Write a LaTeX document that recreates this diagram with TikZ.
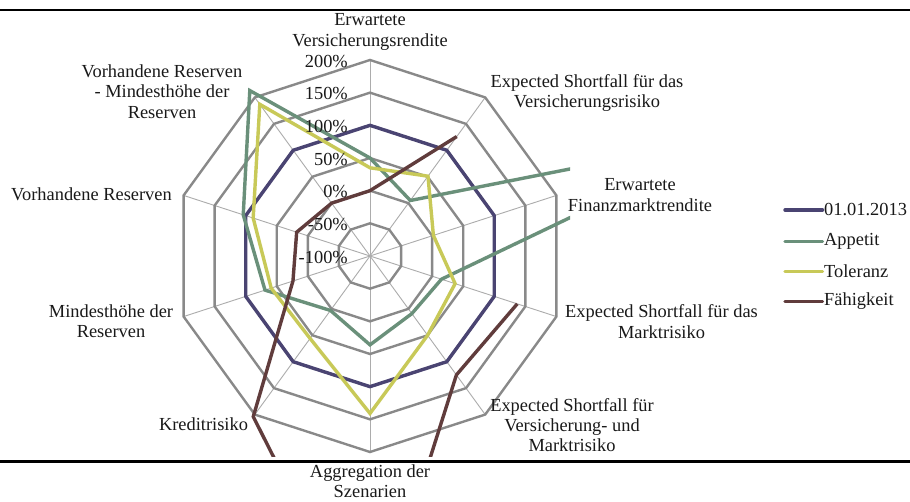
\documentclass[tikz,border=0pt]{standalone}
\usepackage{fontspec}
\setmainfont{Liberation Serif}
\definecolor{sBlue}{RGB}{74,68,114}
\definecolor{sGreen}{RGB}{106,144,122}
\definecolor{sYellow}{RGB}{200,201,88}
\definecolor{sBrown}{RGB}{96,60,60}
\definecolor{ringgray}{RGB}{137,137,137}
\definecolor{spokegray}{RGB}{172,172,172}
\definecolor{txt}{RGB}{25,25,25}
\begin{document}
\begin{tikzpicture}[x=1pt,y=-1pt,
  ring/.style={draw=ringgray,line width=2.4pt,line join=miter},
  spoke/.style={draw=spokegray,line width=0.9pt},
  series/.style={line width=3.4pt,line join=miter},
  lbl/.style={font=\fontsize{18.4}{20.3}\selectfont,align=center,inner sep=0pt,text=txt},
  ticklbl/.style={font=\fontsize{18.4}{20}\selectfont,anchor=east,inner sep=0pt,text=txt},
  legtxt/.style={font=\fontsize{18.4}{20}\selectfont,anchor=west,inner sep=0pt,text=txt},
  rulebar/.style={line width=2.8pt,draw=black}]
\useasboundingbox (0,0) rectangle (910,502);
\fill[white] (0,0) rectangle (910,502);

% horizontal rules
\coordinate (tl) at (0,10);
\coordinate (tr) at (910,10);
\coordinate (bl) at (0,461.5);
\coordinate (br) at (910,461.5);
\draw[rulebar] (tl) -- (tr);
\draw[rulebar] (bl) -- (br);

\coordinate (C) at (370,256);
\begin{scope}[shift={(370,256)}]
  % spokes
  \foreach \k in {0,...,9}
    \draw[spoke] (0,0) -- (36*\k-90:196);
  % rings
  \foreach \i in {1,...,6}{
    \pgfmathsetmacro{\rr}{\i*32.6667}
    \draw[ring] (-90:\rr) \foreach \k in {1,...,9}{ -- (36*\k-90:\rr)} -- cycle;
  }
  % data coordinates
  \foreach \k/\v in {0/100,1/100,2/100,3/100,4/100,5/100,6/100,7/100,8/100,9/100}
    \coordinate (b\k) at (36*\k-90:{(\v+100)*0.65333});
  \foreach \k/\v in {0/50,1/5,2/500,3/15,4/9,5/36,6/3,7/69,8/104,9/213}
    \coordinate (g\k) at (36*\k-90:{(\v+100)*0.65333});
  \foreach \k/\v in {0/35,1/51,2/2,3/37,4/50,5/141,6/56,7/59,8/88,9/187}
    \coordinate (y\k) at (36*\k-90:{(\v+100)*0.65333});
  \foreach \k/\v in {0/0,1/126,3/137,4/125,5/500,6/204,7/24,8/18,9/0}
    \coordinate (f\k) at (36*\k-90:{(\v+100)*0.65333});
\end{scope}

\begin{scope}
  \clip (170,56) rectangle (570,456);
  \draw[series,sBlue] (b0) -- (b1) -- (b2) -- (b3) -- (b4) -- (b5) -- (b6) -- (b7) -- (b8) -- (b9) -- cycle;
  \draw[series,sGreen] (g0) -- (g1) -- (g2) -- (g3) -- (g4) -- (g5) -- (g6) -- (g7) -- (g8) -- (g9) -- cycle;
  \draw[series,sYellow] (y0) -- (y1) -- (y2) -- (y3) -- (y4) -- (y5) -- (y6) -- (y7) -- (y8) -- (y9) -- cycle;
  \draw[series,sBrown] (f3) -- (f4) -- (f5) -- (f6) -- (f7) -- (f8) -- (f9) -- (f0) -- (f1);
\end{scope}

% tick labels
\node[ticklbl] (t200) at (348,61.5) {200\%};
\node[ticklbl] (t150) at (348,94) {150\%};
\node[ticklbl] (t100) at (348,127) {100\%};
\node[ticklbl] (t50) at (348,159.5) {50\%};
\node[ticklbl] (t0) at (348,192) {0\%};
\node[ticklbl] (tm50) at (348,225) {-50\%};
\node[ticklbl] (tm100) at (348,257.5) {-100\%};

% axis labels
\node[lbl] (L0) at (370,32) {Erwartete\\Versicherungsrendite};
\node[lbl] (L1) at (587,93) {Expected Shortfall für das\\Versicherungsrisiko};
\node[lbl] (L2) at (640,195) {Erwartete\\Finanzmarktrendite};
\node[lbl] (L3) at (661.5,321.5) {Expected Shortfall für das\\Marktrisiko};
\node[lbl] (L4) at (572,425) {Expected Shortfall für\\Versicherung- und\\Marktrisiko};
\node[lbl] (L5) at (370,481.5) {Aggregation der\\Szenarien};
\node[lbl] (L6) at (203.5,424) {Kreditrisiko};
\node[lbl] (L7) at (111,321) {Mindesthöhe der\\Reserven};
\node[lbl] (L8) at (91.5,194) {Vorhandene Reserven};
\node[lbl] (L9) at (162,91.5) {Vorhandene Reserven\\- Mindesthöhe der\\Reserven};

% legend
\node[legtxt] (e1) at (824,210) {01.01.2013};
\node[legtxt] (e2) at (824,241.5) {Appetit};
\node[legtxt] (e3) at (824,271.5) {Toleranz};
\node[legtxt] (e4) at (824,301.5) {Fähigkeit};
\coordinate (s1) at (785,210);
\coordinate (s2) at (785,241.5);
\coordinate (s3) at (785,271.5);
\coordinate (s4) at (785,301.5);
\draw[series,sBlue,line cap=round] (s1) -- ([xshift=-1.5pt]e1.west);
\draw[series,sGreen,line cap=round] (s2) -- ([xshift=-1.5pt]e2.west);
\draw[series,sYellow,line cap=round] (s3) -- ([xshift=-1.5pt]e3.west);
\draw[series,sBrown,line cap=round] (s4) -- ([xshift=-1.5pt]e4.west);
\end{tikzpicture}
\end{document}
